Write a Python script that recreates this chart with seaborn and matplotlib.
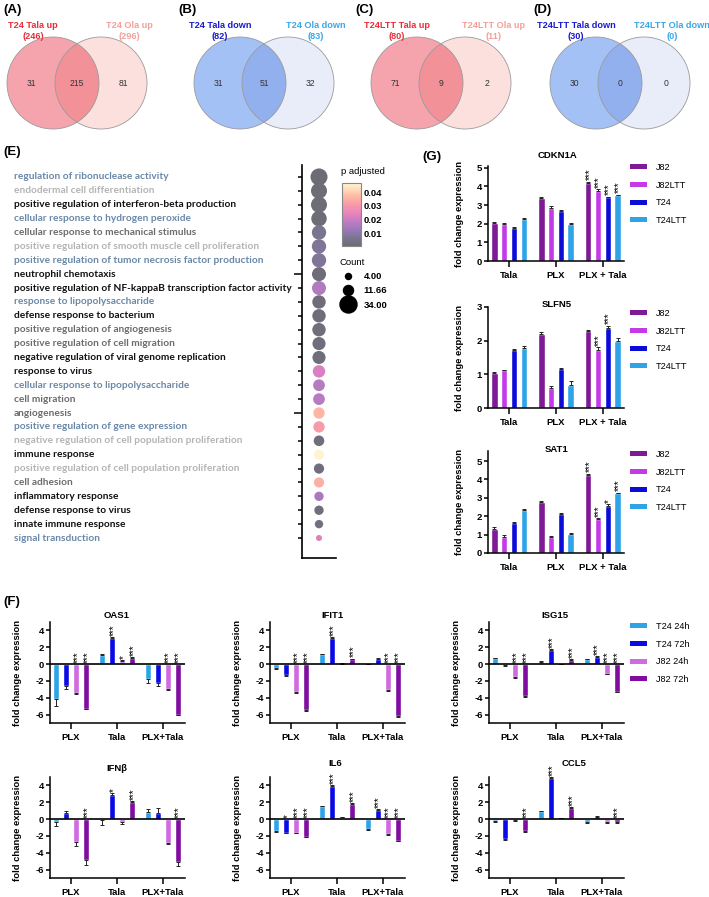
import matplotlib
matplotlib.use("Agg")
import matplotlib.pyplot as plt
import matplotlib.transforms as mtransforms
import numpy as np
import pandas as pd
import seaborn as sns
from matplotlib.cm import ScalarMappable
from matplotlib.colors import LinearSegmentedColormap, Normalize
from matplotlib.lines import Line2D
from matplotlib.patches import Circle, Patch

W, H = 709, 897

# ---- (A-D) Venn diagrams
venn_left_names = ["T24 Tala up", "T24 Tala down", "T24LTT Tala up", "T24LTT Tala down"]
venn_right_names = ["T24 Ola up", "T24 Ola down", "T24LTT Ola up", "T24LTT Ola down"]
venn_left_only = [31, 31, 71, 30]
venn_shared = [215, 51, 9, 0]
venn_right_only = [81, 32, 2, 0]

# ---- (E) GO enrichment
go_terms = [
    "regulation of ribonuclease activity",
    "endodermal cell differentiation",
    "positive regulation of interferon-beta production",
    "cellular response to hydrogen peroxide",
    "cellular response to mechanical stimulus",
    "positive regulation of smooth muscle cell proliferation",
    "positive regulation of tumor necrosis factor production",
    "neutrophil chemotaxis",
    "positive regulation of NF-kappaB transcription factor activity",
    "response to lipopolysaccharide",
    "defense response to bacterium",
    "positive regulation of angiogenesis",
    "positive regulation of cell migration",
    "negative regulation of viral genome replication",
    "response to virus",
    "cellular response to lipopolysaccharide",
    "cell migration",
    "angiogenesis",
    "positive regulation of gene expression",
    "negative regulation of cell population proliferation",
    "immune response",
    "positive regulation of cell population proliferation",
    "cell adhesion",
    "inflammatory response",
    "defense response to virus",
    "innate immune response",
    "signal transduction",
]
go_cluster = [1, 2, 3, 1, 4, 2, 1, 3, 3, 1, 3, 4, 4, 3, 3, 1, 4, 4, 1, 2, 3, 2, 4, 3, 3, 3, 1]
go_count = [34, 30, 30, 28, 24, 24, 24, 23, 23, 21, 21, 21, 20, 20, 18, 16, 16,
            15, 15, 13, 12, 12, 12, 10, 10, 8, 4]
go_padj = [0.0008, 0.001, 0.001, 0.0012, 0.006, 0.007, 0.007, 0.0015, 0.016,
           0.0015, 0.0015, 0.002, 0.002, 0.002, 0.022, 0.017, 0.017, 0.036,
           0.031, 0.002, 0.046, 0.002, 0.035, 0.015, 0.002, 0.003, 0.023]
count_legend = [4.00, 11.66, 34.00]

# ---- (G) qPCR per cell line (rows = lines, cols = treatments)
g_treat = ["Tala", "PLX", "PLX + Tala"]
g_lines = ["J82", "J82LTT", "T24", "T24LTT"]
cdkn1a_mean = [[2.05, 3.38, 4.20], [2.00, 2.87, 3.75], [1.75, 2.70, 3.42], [2.28, 2.00, 3.52]]
cdkn1a_err = [[0.03, 0.05, 0.06], [0.06, 0.06, 0.10], [0.06, 0.03, 0.04], [0.05, 0.04, 0.05]]
cdkn1a_sig = [["", "", "***"], ["", "", "***"], ["", "", "***"], ["", "", "***"]]
slfn5_mean = [[1.05, 2.20, 2.28], [1.12, 0.60, 1.72], [1.72, 1.15, 2.37], [1.78, 0.67, 2.00]]
slfn5_err = [[0.03, 0.05, 0.04], [0.02, 0.04, 0.08], [0.03, 0.05, 0.07], [0.06, 0.12, 0.08]]
slfn5_sig = [["", "", ""], ["", "", "***"], ["", "", "***"], ["", "", ""]]
sat1_mean = [[1.30, 2.80, 4.27], [0.88, 0.85, 1.85], [1.63, 2.10, 2.57], [2.33, 1.05, 3.25]]
sat1_err = [[0.10, 0.03, 0.04], [0.10, 0.05, 0.04], [0.08, 0.06, 0.10], [0.04, 0.03, 0.04]]
sat1_sig = [["", "", "***"], ["", "", "***"], ["", "", "*"], ["", "", "***"]]

# ---- (F) qPCR time course (rows = series, cols = treatments)
f_treat = ["PLX", "Tala", "PLX+Tala"]
f_series = ["T24 24h", "T24 72h", "J82 24h", "J82 72h"]
oas1_mean = [[-4.2, 1.1, -1.8], [-2.6, 3.1, -2.3], [-3.4, 0.4, -3.0], [-5.3, 0.7, -6.0]]
oas1_err = [[0.8, 0.15, 0.5], [0.4, 0.12, 0.3], [0.1, 0.08, 0.12], [0.08, 0.1, 0.1]]
oas1_sig = [["", "", ""], ["", "***", ""], ["***", "*", "***"], ["***", "***", "***"]]
ifit1_mean = [[-0.45, 1.15, 0.0], [-1.3, 3.1, 0.65], [-3.3, 0.05, -3.1], [-5.5, 0.6, -6.2]]
ifit1_err = [[0.08, 0.08, 0.05], [0.08, 0.1, 0.06], [0.1, 0.03, 0.08], [0.1, 0.06, 0.1]]
ifit1_sig = [["", "", ""], ["", "***", ""], ["***", "", "***"], ["***", "***", "***"]]
isg15_mean = [[0.7, 0.3, 0.55], [-0.15, 1.7, 0.85], [-1.5, 0.0, -1.15], [-3.8, 0.5, -3.3]]
isg15_err = [[0.06, 0.06, 0.06], [0.05, 0.08, 0.1], [0.1, 0.02, 0.08], [0.1, 0.08, 0.06]]
isg15_sig = [["", "", ""], ["", "***", "***"], ["***", "", "***"], ["***", "***", "***"]]
ifnb_mean = [[-0.4, -0.05, 0.85], [0.75, 2.9, 0.7], [-2.7, -0.4, -2.8], [-4.9, 2.0, -5.1]]
ifnb_err = [[0.4, 0.7, 0.35], [0.25, 0.2, 0.6], [0.5, 0.15, 0.2], [0.5, 0.1, 0.5]]
ifnb_sig = [["", "", ""], ["", "*", ""], ["", "", ""], ["***", "***", "***"]]
il6_mean = [[-1.4, 1.5, -1.2], [-1.6, 3.95, 1.1], [-1.6, 0.2, -1.8], [-2.1, 1.8, -2.6]]
il6_err = [[0.08, 0.06, 0.1], [0.08, 0.08, 0.08], [0.06, 0.04, 0.06], [0.06, 0.06, 0.06]]
il6_sig = [["", "", ""], ["*", "***", "***"], ["***", "", "***"], ["***", "***", "***"]]
ccl5_mean = [[-0.2, 0.95, -0.3], [-2.4, 4.9, 0.2], [-0.15, 0.1, -0.35], [-1.45, 1.3, -0.35]]
ccl5_err = [[0.1, 0.05, 0.2], [0.1, 0.08, 0.2], [0.05, 0.03, 0.1], [0.08, 0.08, 0.15]]
ccl5_sig = [["", "", ""], ["", "***", ""], ["", "", ""], ["***", "***", "***"]]

g_palette = ["#7e1a96", "#c43ae6", "#0c0cd8", "#2ea4e6"]
f_palette = ["#2ea4e6", "#0a0ae6", "#d06ae0", "#800ca0"]
cluster_colors = {1: "#6a88a8", 2: "#b4b4b4", 3: "#111111", 4: "#6c6c6c"}

sns.set_style("ticks", {"axes.edgecolor": "black", "xtick.color": "black",
                        "ytick.color": "black", "text.color": "black",
                        "axes.labelcolor": "black"})
plt.rcParams["font.family"] = ["Liberation Sans", "DejaVu Sans"]
plt.rcParams["axes.unicode_minus"] = False


def px(x0, y0, x1, y1):
    return [x0 / W, 1 - y1 / H, (x1 - x0) / W, (y1 - y0) / H]


fig = plt.figure(figsize=(W / 100, H / 100), dpi=100)

# ---------------- Venn diagrams
ax_v = fig.add_axes(px(0, 0, W, 140))
ax_v.set_xlim(0, W)
ax_v.set_ylim(140, 0)
ax_v.axis("off")
venn_x0 = [0, 187, 364, 543]
venn_style = [("#ee5a6a", "#f7a098", "#e85a6a", "#e8303a", "#f4a09a"),
              ("#5a8ef0", "#b8c8ee", "#4070e0", "#1a1ad0", "#3aa8e8")]
r, cy = 46, 83
for k in range(4):
    cl, cr, cov, tl, tr = venn_style[k % 2]
    xl, xr = venn_x0[k] + 53, venn_x0[k] + 101
    ax_v.add_patch(Circle((xl, cy), r, facecolor=cl, alpha=0.55, edgecolor="none"))
    ax_v.add_patch(Circle((xr, cy), r, facecolor=cr, alpha=0.32, edgecolor="none"))
    clip = Circle((xl, cy), r, transform=ax_v.transData)
    over = Circle((xr, cy), r, facecolor=cov, alpha=0.22, edgecolor="none")
    ax_v.add_patch(over)
    over.set_clip_path(clip)
    for cx in (xl, xr):
        ax_v.add_patch(Circle((cx, cy), r, fill=False, edgecolor="#9a9a9a", lw=0.6))
    d = xr - xl
    for xt, val in [(xl - r + d / 2, venn_left_only[k]), ((xl + xr) / 2, venn_shared[k]),
                    (xr + r - d / 2, venn_right_only[k])]:
        ax_v.text(xt, cy, str(val), ha="center", va="center", fontsize=6.2, color="#333333")
    n_left = venn_left_only[k] + venn_shared[k]
    n_right = venn_right_only[k] + venn_shared[k]
    ax_v.text(xl - 20, 31, f"{venn_left_names[k]}\n({n_left})", ha="center", va="center",
              fontsize=6.6, fontweight="bold", color=tl, linespacing=1.3)
    ax_v.text(xr + 28, 31, f"{venn_right_names[k]}\n({n_right})", ha="center", va="center",
              fontsize=6.6, fontweight="bold", color=tr, linespacing=1.3)

for lab, x, y in [("(A)", 3, 10), ("(B)", 178, 10), ("(C)", 355, 10), ("(D)", 533, 10),
                  ("(E)", 3, 152), ("(G)", 422, 157), ("(F)", 3, 602)]:
    fig.text(x / W, 1 - y / H, lab, fontsize=9.5, fontweight="bold", va="center", ha="left")

# ---------------- GO dot plot
cmap = LinearSegmentedColormap.from_list(
    "padj", [(0.0, "#6c6c74"), (0.12, "#7a7490"), (0.25, "#9878b8"), (0.4, "#c47cc4"),
             (0.52, "#e884bc"), (0.66, "#f89aa8"), (0.8, "#ffbca4"), (1.0, "#fff8d4")])
norm = Normalize(0.0005, 0.0466)
size_range = (19, 150)
size_norm = (4, 34)

df_go = pd.DataFrame({"row": range(len(go_terms)), "term": go_terms, "Count": go_count,
                      "p adjusted": go_padj, "x": 0})
ax_e = fig.add_axes(px(302, 165, 336, 558))
sns.scatterplot(data=df_go, x="x", y="row", hue="p adjusted", size="Count",
                palette=cmap, hue_norm=norm, sizes=size_range, size_norm=size_norm,
                linewidth=0, legend=False, ax=ax_e)
ax_e.set_xlim(-0.5, 0.5)
ax_e.set_ylim(len(go_terms) - 1 + 1.44, -0.86)
ax_e.set_xticks([])
ax_e.set_xlabel("")
ax_e.set_ylabel("")
sns.despine(ax=ax_e)
for s in ("left", "bottom"):
    ax_e.spines[s].set_linewidth(1.2)
ax_e.set_yticks(df_go["row"])
ax_e.set_yticklabels([])
ax_e.tick_params(axis="y", length=3, width=1.1)
for i in (7, 17):
    ax_e.yaxis.get_major_ticks()[i].tick1line.set_markersize(6)
label_tr = mtransforms.blended_transform_factory(fig.transFigure, ax_e.transData)
for i, (term, c) in enumerate(zip(go_terms, go_cluster)):
    ax_e.text(14 / W, i, term, transform=label_tr, ha="left", va="center",
              fontfamily="Lato", fontweight="bold", fontsize=7.3, color=cluster_colors[c])

cax = fig.add_axes(px(342, 183, 361, 246))
cb = fig.colorbar(ScalarMappable(norm=norm, cmap=cmap), cax=cax)
cb.set_ticks([0.01, 0.02, 0.03, 0.04])
cb.outline.set_edgecolor("#888888")
cb.outline.set_linewidth(0.8)
cax.tick_params(direction="in", length=3, width=0.6, labelsize=6.8, pad=2, color="#555555")
for lbl in cax.get_yticklabels():
    lbl.set_fontweight("bold")
fig.text(341 / W, 1 - 172 / H, "p adjusted", fontsize=6.8, va="center")


def count_to_size(c):
    return size_range[0] + (c - size_norm[0]) / (size_norm[1] - size_norm[0]) * (size_range[1] - size_range[0])


handles = [Line2D([], [], marker="o", ls="", color="black", markersize=np.sqrt(count_to_size(c)))
           for c in count_legend]
leg = ax_e.legend(handles, [f"{c:.2f}" for c in count_legend], title="Count",
                  loc="upper left", bbox_to_anchor=(339 / W, 1 - 258 / H),
                  bbox_transform=fig.transFigure, frameon=False,
                  prop={"weight": "bold", "size": 6.8}, title_fontsize=6.8,
                  labelspacing=0.55, handletextpad=0.6, borderpad=0, borderaxespad=0)
leg._legend_box.align = "left"


# ---------------- bar charts
def bar_panel(ax, treat, series, mean, err, sig, palette, width, gap):
    rows = [(t, s, mean[i][j]) for i, s in enumerate(series) for j, t in enumerate(treat)]
    df = pd.DataFrame(rows, columns=["treatment", "series", "value"])
    sns.barplot(data=df, x="treatment", y="value", hue="series", order=treat,
                hue_order=series, palette=palette, width=width, gap=gap,
                saturation=1, errorbar=None, legend=False, ax=ax)
    for i, cont in enumerate(list(ax.containers)):
        for bar in cont:
            x = bar.get_x() + bar.get_width() / 2
            j = int(round(x))
            v, e = mean[i][j], err[i][j]
            yerr = [[0], [e]] if v >= 0 else [[e], [0]]
            ax.errorbar(x, v, yerr=yerr, fmt="none", ecolor="#222222",
                        elinewidth=0.7, capsize=1.6, capthick=0.7)
            if sig[i][j]:
                top = v + e if v > 0 else 0
                ax.annotate(sig[i][j], (x, top), xytext=(1.0, 1.0), textcoords="offset points",
                            rotation=90, ha="center", va="bottom", fontsize=7,
                            annotation_clip=False)


def style_axes(ax, xlim, ylim, yticks, label_x):
    ax.set_xlim(xlim)
    ax.set_ylim(ylim)
    ax.set_yticks(yticks)
    sns.despine(ax=ax)
    for s in ("left", "bottom"):
        ax.spines[s].set_linewidth(1.1)
    ax.tick_params(axis="y", length=3, width=1.1, labelsize=6.8, pad=1.5)
    ax.tick_params(axis="x", length=4.5, width=1.1, labelsize=6.8, pad=3)
    for lbl in ax.get_xticklabels() + ax.get_yticklabels():
        lbl.set_fontweight("bold")
    ax.set_xlabel("")
    ax.set_ylabel("fold change expression", fontsize=6.8, fontweight="bold")
    ax.yaxis.set_label_coords(label_x, 0.5)


def add_legend(ax, labels, palette, x, y):
    handles = [Patch(facecolor=c, edgecolor="none") for c in palette]
    ax.legend(handles, labels, loc="upper left", bbox_to_anchor=(x / W, 1 - y / H),
              bbox_transform=fig.transFigure, frameon=False, fontsize=6.6,
              handlelength=1.9, handleheight=0.5, handletextpad=0.9,
              labelspacing=0.95, borderpad=0, borderaxespad=0)


g_panels = [
    ("CDKN1A", cdkn1a_mean, cdkn1a_err, cdkn1a_sig, (166, 261), (0, 5.1), range(6), 156, 163),
    ("SLFN5", slfn5_mean, slfn5_err, slfn5_sig, (307, 408), (0, 3), range(4), 304, 309),
    ("SAT1", sat1_mean, sat1_err, sat1_sig, (451, 553), (0, 5.55), range(6), 449, 450),
]
for name, m, e, s, (y0, y1), ylim, yt, ty, ly in g_panels:
    ax = fig.add_axes(px(488, y0, 624, y1))
    bar_panel(ax, g_treat, g_lines, m, e, s, g_palette, 0.84, 0.33)
    style_axes(ax, (-0.45, 2.45), ylim, yt, -0.18)
    fig.text(557 / W, 1 - ty / H, name, fontsize=6.8, fontweight="bold", ha="center", va="center")
    add_legend(ax, g_lines, g_palette, 630, ly)

f_panels = [
    ("OAS1", oas1_mean, oas1_err, oas1_sig, 0, 0, (117, 615)),
    ("IFIT1", ifit1_mean, ifit1_err, ifit1_sig, 0, 1, (333, 615)),
    ("ISG15", isg15_mean, isg15_err, isg15_sig, 0, 2, (555, 615)),
    ("IFNβ", ifnb_mean, ifnb_err, ifnb_sig, 1, 0, (117, 768)),
    ("IL6", il6_mean, il6_err, il6_sig, 1, 1, (335, 763)),
    ("CCL5", ccl5_mean, ccl5_err, ccl5_sig, 1, 2, (574, 763)),
]
f_cols = [50, 270, 489]
f_rows = [(622, 723), (777, 878)]
for name, m, e, s, row, col, (tx, ty) in f_panels:
    x0 = f_cols[col]
    y0, y1 = f_rows[row]
    ax = fig.add_axes(px(x0, y0, x0 + 135, y1))
    bar_panel(ax, f_treat, f_series, m, e, s, f_palette, 0.87, 0.35)
    ax.axhline(0, color="black", lw=1.2, zorder=3)
    style_axes(ax, (-0.46, 2.48), (-7, 5), [-6, -4, -2, 0, 2, 4], -0.207)
    fig.text(tx / W, 1 - ty / H, name, fontsize=6.8, fontweight="bold", ha="center", va="center")
    if row == 0 and col == 2:
        add_legend(ax, f_series, f_palette, 630, 622)

fig.savefig("out.png", dpi=100)
